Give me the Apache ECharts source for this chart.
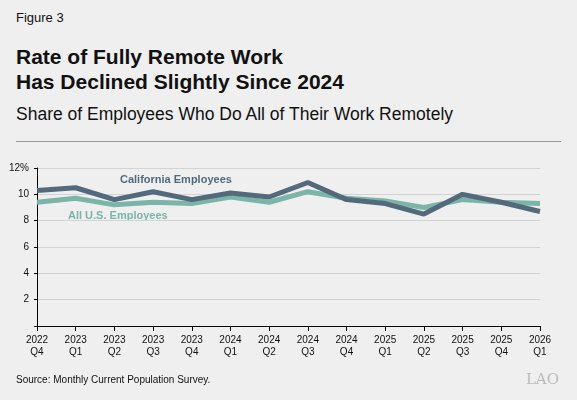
<!DOCTYPE html>
<html><head><meta charset="utf-8">
<script src="https://cdn.jsdelivr.net/npm/echarts@6/dist/echarts.min.js"></script>
<style>
body{margin:0;background:#eeefee;font-family:"Liberation Sans",Arial,sans-serif;}
#wrap{position:relative;width:577px;height:400px;}
.t{position:absolute;left:16px;color:#111;}
#chart{position:absolute;left:0;top:150px;width:577px;height:225px;}
</style></head><body>
<div id="wrap">
<div class="t" style="top:10px;font-size:13px;">Figure 3</div>
<div class="t" style="top:44px;font-size:21px;font-weight:bold;line-height:25px;">Rate of Fully Remote Work<br>Has Declined Slightly Since 2024</div>
<div class="t" style="top:104px;font-size:17.5px;">Share of Employees Who Do All of Their Work Remotely</div>
<div style="position:absolute;left:16px;right:16px;top:141px;border-top:1px solid #999;"></div>
<div id="chart"></div>
<div class="t" style="top:374px;font-size:10px;">Source: Monthly Current Population Survey.</div>
<div style="position:absolute;right:18px;top:370px;font-size:15px;color:#bbb;font-family:'DejaVu Serif',serif;">LAO</div>
</div>
<script>
const quarters = ["2022\nQ4","2023\nQ1","2023\nQ2","2023\nQ3","2023\nQ4","2024\nQ1","2024\nQ2","2024\nQ3","2024\nQ4","2025\nQ1","2025\nQ2","2025\nQ3","2025\nQ4","2026\nQ1"];
const california = [10.3,10.5,9.6,10.2,9.6,10.1,9.8,10.9,9.6,9.3,8.5,10.0,9.4,8.7];
const allUS = [9.4,9.7,9.2,9.4,9.3,9.8,9.4,10.2,9.7,9.5,9.0,9.6,9.4,9.3];

const chart = echarts.init(document.getElementById("chart"));
chart.setOption({
  animation: false,
  grid: {left: 37, right: 37, top: 18, bottom: 49},
  xAxis: {
    type: "category", boundaryGap: false, data: quarters,
    axisLine: {lineStyle: {color: "#000"}},
    axisTick: {show: true, alignWithLabel: true, lineStyle: {color: "#000"}},
    axisLabel: {color: "#111", fontSize: 10, lineHeight: 12, margin: 8, interval: 0}
  },
  yAxis: {
    type: "value", min: 0, max: 12, interval: 2,
    axisLine: {show: true, lineStyle: {color: "#000"}},
    axisTick: {show: true, length: 3, lineStyle: {color: "#000"}},
    splitLine: {lineStyle: {color: "#d3d3d3"}},
    axisLabel: {color: "#111", fontSize: 10, formatter: v => v === 0 ? "" : (v === 12 ? "12%" : v)}
  },
  series: [
    {name: "All U.S. Employees", type: "line", data: allUS, symbol: "none",
     lineStyle: {color: "#7ab5a8", width: 5}, z: 2},
    {name: "California Employees", type: "line", data: california, symbol: "none",
     lineStyle: {color: "#536a7d", width: 5}, z: 3}
  ],
  graphic: [
    {type: "text", left: 120, top: 24, style: {text: "California Employees", fill: "#536a7d", font: "bold 11px Liberation Sans"}},
    {type: "text", left: 68, top: 60, style: {text: "All U.S. Employees", fill: "#7ab5a8", font: "bold 11px Liberation Sans"}}
  ]
});
</script>
</body></html>
